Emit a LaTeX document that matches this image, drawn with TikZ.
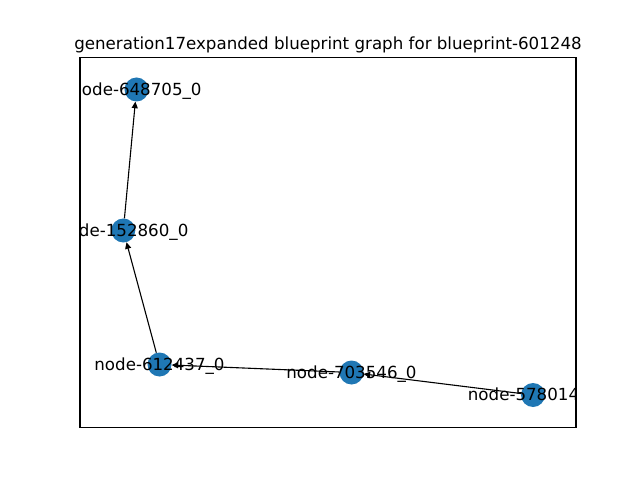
\documentclass[tikz,border=0pt]{standalone}
\usepackage{fontspec}
\setmainfont{DejaVu Sans}
\usetikzlibrary{arrows.meta}
\definecolor{nodeblue}{HTML}{1F77B4}
\tikzset{
  gnode/.style={circle, fill=nodeblue, inner sep=0pt, minimum size=24bp},
  glabel/.style={font=\fontsize{16.67bp}{20bp}\selectfont, inner sep=0pt, anchor=center, yshift=-1.5bp},
  gedge/.style={line width=1.1bp, -{Triangle[length=6.5bp,width=6bp]}}
}
\begin{document}
\begin{tikzpicture}[x=1bp,y=-1bp]
\useasboundingbox (0,0) rectangle (640,480);
\node[font=\fontsize{16.67bp}{20bp}\selectfont, anchor=base, inner sep=0pt] (title) at (328,49.3) {generation17expanded blueprint graph for blueprint-601248};
\begin{scope}
\clip (80,57.6) rectangle (576,427.2);
\node[gnode] (n648705) at (136.5,89.5) {};
\node[gnode] (n152860) at (123.3,230.5) {};
\node[gnode] (n612437) at (159.5,364.5) {};
\node[gnode] (n703546) at (351.5,372.5) {};
\node[gnode] (n578014) at (533,395) {};
\draw[gedge] (n578014) -- (n703546);
\draw[gedge] (n703546) -- (n612437);
\draw[gedge] (n612437) -- (n152860);
\draw[gedge] (n152860) -- (n648705);
\node[glabel] (l648705) at (n648705) {node-648705\_0};
\node[glabel] (l152860) at (n152860) {node-152860\_0};
\node[glabel] (l612437) at (n612437) {node-612437\_0};
\node[glabel] (l703546) at (n703546) {node-703546\_0};
\node[glabel] (l578014) at (n578014) {node-578014\_0};
\end{scope}
\draw[line width=1.1bp] (80,57.6) rectangle (576,427.2);
\end{tikzpicture}
\end{document}
